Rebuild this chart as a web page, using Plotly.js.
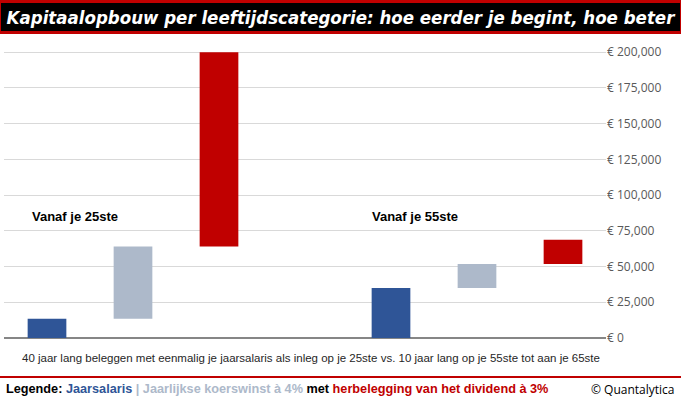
<!DOCTYPE html>
<html>
<head>
<meta charset="utf-8">
<script src="https://cdn.plot.ly/plotly-3.0.1.min.js"></script>
<style>html,body{margin:0;padding:0;background:#fff;} #chart{width:681px;height:399px;}</style>
</head>
<body>
<div id="chart"></div>
<script>
// ---- data ----
const categories = ['25: Jaarsalaris', '25: Koerswinst', '25: Dividend', ' ', '55: Jaarsalaris', '55: Koerswinst', '55: Dividend'];
const groupLabels = ['Vanaf je 25ste', 'Vanaf je 55ste'];
const salaris = [13400, 34900];          // jaarsalaris (inleg)
const totaalKoers = [64100, 51700];      // na koerswinst à 4%
const totaalDividend = [200000, 68700];  // met herbelegging dividend à 3%
const yTickVals = [0, 25000, 50000, 75000, 100000, 125000, 150000, 175000, 200000];
const yTickText = ['€ 0', '€ 25,000', '€ 50,000', '€ 75,000', '€ 100,000', '€ 125,000', '€ 150,000', '€ 175,000', '€ 200,000'];
const titleText = 'Kapitaalopbouw per leeftijdscategorie: hoe eerder je begint, hoe beter';
const xLabelText = '40 jaar lang beleggen met eenmalig je jaarsalaris als inleg op je 25ste vs. 10 jaar lang op je 55ste tot aan je 65ste';
const legendParts = [
  {t: 'Legende: ', c: '#000000'},
  {t: 'Jaarsalaris', c: '#2F5597'},
  {t: ' | ', c: '#ADB9CA'},
  {t: 'Jaarlijkse koerswinst à 4%', c: '#ADB9CA'},
  {t: ' met ', c: '#000000'},
  {t: 'herbelegging van het dividend à 3%', c: '#C00000'}
];
const creditText = '© Quantalytica';

// ---- layout geometry ----
const W = 681, H = 399;
const M = {l: 4, r: 75, t: 50, b: 61};
const PW = W - M.l - M.r, PH = H - M.t - M.b;
const px = x => (x - M.l) / PW;
const py = y => (H - M.b - y) / PH;

const xA = [categories[0], categories[4]];
const xB = [categories[1], categories[5]];
const xC = [categories[2], categories[6]];

const traces = [
  {type: 'bar', x: xA, y: salaris, base: [0, 0], width: 0.45,
   marker: {color: '#2F5597'}, hoverinfo: 'y', showlegend: false},
  {type: 'bar', x: xB, y: totaalKoers.map((v, i) => v - salaris[i]), base: salaris, width: 0.45,
   marker: {color: '#ADB9CA'}, hoverinfo: 'y', showlegend: false},
  {type: 'bar', x: xC, y: totaalDividend.map((v, i) => v - totaalKoers[i]), base: totaalKoers, width: 0.45,
   marker: {color: '#C00000'}, hoverinfo: 'y', showlegend: false}
];

const legendHtml = legendParts.map(p => '<span style="color:' + p.c + '">' + p.t + '</span>').join('');

const layout = {
  width: W, height: H,
  margin: M,
  paper_bgcolor: '#ffffff', plot_bgcolor: '#ffffff',
  barmode: 'overlay',
  showlegend: false,
  title: {
    text: titleText, xref: 'container', yref: 'container', x: 0.5, xanchor: 'center',
    y: 1 - 17.5 / H, yanchor: 'middle',
    font: {family: 'DejaVu Sans Condensed, sans-serif', size: 18.5, color: '#ffffff', weight: 'bold', style: 'italic'}
  },
  xaxis: {
    type: 'category', categoryorder: 'array', categoryarray: categories,
    range: [-0.5, 6.5], showticklabels: false, showgrid: false, zeroline: false, ticks: '', fixedrange: true
  },
  yaxis: {
    side: 'right', range: [0, 201500], tickmode: 'array', tickvals: yTickVals, ticktext: yTickText,
    showgrid: true, gridcolor: '#D9D9D9', gridwidth: 1,
    zeroline: true, zerolinecolor: '#868686', zerolinewidth: 1.5,
    ticks: '', showline: false,
    tickfont: {family: 'Open Sans, sans-serif', size: 12, color: '#595959'}
  },
  shapes: [
    {type: 'rect', xref: 'paper', yref: 'paper', x0: px(0), x1: px(W), y0: py(0), y1: py(34),
     fillcolor: '#C00000', line: {width: 0}, layer: 'below'},
    {type: 'rect', xref: 'paper', yref: 'paper', x0: px(1), x1: px(W - 1), y0: py(3), y1: py(31),
     fillcolor: '#000000', line: {width: 0}, layer: 'below'},
    {type: 'line', xref: 'paper', yref: 'paper', x0: px(0), x1: px(W), y0: py(377), y1: py(377),
     line: {color: '#C00000', width: 2}}
  ],
  annotations: [
    {text: groupLabels[0], xref: 'paper', yref: 'paper', x: px(30), y: py(216), xanchor: 'left', yanchor: 'middle',
     showarrow: false, font: {family: 'Liberation Sans, sans-serif', size: 13, color: '#000000', weight: 'bold'}},
    {text: groupLabels[1], xref: 'paper', yref: 'paper', x: px(370), y: py(216), xanchor: 'left', yanchor: 'middle',
     showarrow: false, font: {family: 'Liberation Sans, sans-serif', size: 13, color: '#000000', weight: 'bold'}},
    {text: xLabelText, xref: 'paper', yref: 'paper', x: px(20), y: py(358), xanchor: 'left', yanchor: 'middle',
     showarrow: false, font: {family: 'Liberation Sans, sans-serif', size: 11.5, color: '#262626'}},
    {text: legendHtml, xref: 'paper', yref: 'paper', x: px(4), y: py(389), xanchor: 'left', yanchor: 'middle',
     showarrow: false, font: {family: 'Liberation Sans, sans-serif', size: 12.7, color: '#000000', weight: 'bold'}},
    {text: creditText, xref: 'paper', yref: 'paper', x: px(677), y: py(389), xanchor: 'right', yanchor: 'middle',
     showarrow: false, font: {family: 'Open Sans, sans-serif', size: 12, color: '#000000'}}
  ]
};

Plotly.newPlot('chart', traces, layout, {displayModeBar: false, staticPlot: true});
</script>
</body>
</html>
